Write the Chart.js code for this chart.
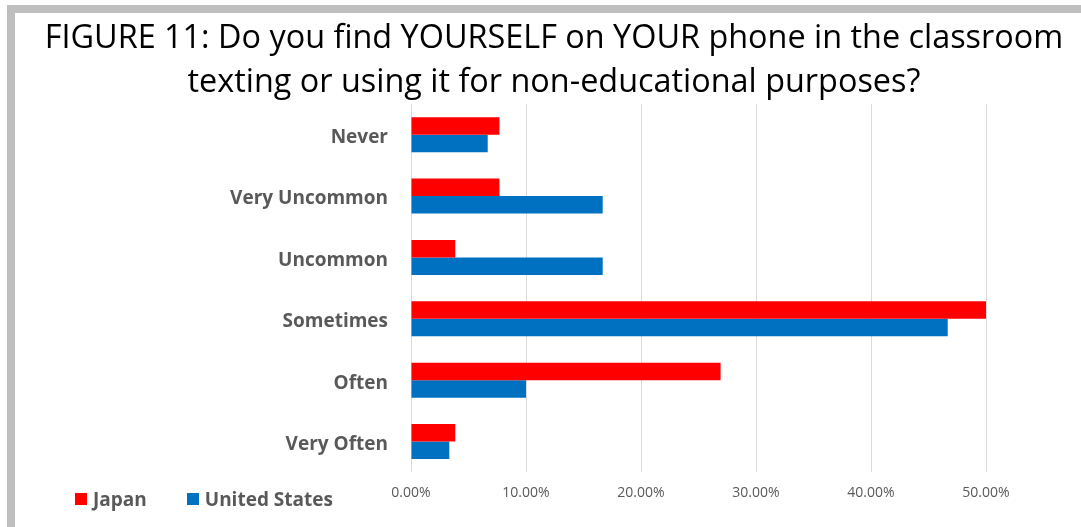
<!DOCTYPE html>
<html>
  <head>
    <title>Phone use in the classroom</title>
    <script src="https://cdn.jsdelivr.net/npm/chart.js"></script>
    <style>
      body {
        margin: 0;
        background: #ffffff;
        overflow: hidden;
      }
      .frame {
        position: absolute;
        left: 7px;
        top: 5px;
        width: 1066px;
        height: 514px;
        border-left: 8px solid #bfbfbf;
        border-top: 8px solid #bfbfbf;
        background: #ffffff;
      }
      canvas {
        display: block;
      }
      .legend {
        position: absolute;
        left: 75px;
        top: 486px;
        display: flex;
        font-family: "Open Sans", sans-serif;
        font-weight: bold;
        font-size: 19px;
        color: #595959;
      }
      .legend span.item {
        display: flex;
        align-items: center;
        margin-right: 40px;
      }
      .legend span.box {
        display: inline-block;
        width: 12px;
        height: 12px;
        margin-right: 6px;
      }
    </style>
  </head>
  <body>
    <div class="frame">
      <canvas id="myChart" width="1066" height="514"></canvas>
    </div>
    <div class="legend" id="legend"></div>

    <script>
      const categorias = ["Never", "Very Uncommon", "Uncommon", "Sometimes", "Often", "Very Often"];
      const japon = [7.69, 7.69, 3.85, 50.0, 26.92, 3.85];
      const estadosUnidos = [6.67, 16.67, 16.67, 46.67, 10.0, 3.33];
      const titulo = [
        "FIGURE 11: Do you find YOURSELF on YOUR phone in the classroom",
        "texting or using it for non-educational purposes?",
      ];

      const chartData = {
        labels: categorias,
        datasets: [
          {
            label: "Japan",
            data: japon,
            backgroundColor: "#ff0000",
            categoryPercentage: 0.57,
            barPercentage: 1.0,
          },
          {
            label: "United States",
            data: estadosUnidos,
            backgroundColor: "#0070c0",
            categoryPercentage: 0.57,
            barPercentage: 1.0,
          },
        ],
      };

      const chartOptions = {
        indexAxis: "y",
        responsive: false,
        animation: false,
        layout: {
          padding: { left: 12, right: 0, top: 0, bottom: 14 },
        },
        plugins: {
          legend: { display: false },
          tooltip: { enabled: false },
          title: {
            display: true,
            text: titulo,
            color: "#000000",
            font: { family: "'Open Sans', sans-serif", size: 32.4, weight: "normal", lineHeight: 1.343 },
            padding: { top: 4, bottom: 0 },
          },
        },
        scales: {
          x: {
            min: 0,
            max: 50,
            ticks: {
              stepSize: 10,
              color: "#595959",
              padding: 12,
              font: { family: "'Open Sans', sans-serif", size: 14 },
              callback: (v) => v.toFixed(2) + "%",
            },
            grid: {
              color: "#d9d9d9",
              drawTicks: false,
            },
            border: { display: false },
          },
          y: {
            ticks: {
              color: "#595959",
              padding: 23,
              labelOffset: 3,
              font: { family: "'Open Sans', sans-serif", size: 19, weight: "bold" },
            },
            grid: { display: false, drawTicks: false },
            border: { display: false },
            afterFit: (scale) => {
              scale.width = 384;
            },
          },
          // eje vacío a la derecha: deja el margen sin descentrar el título
          margen: {
            type: "linear",
            position: "right",
            ticks: { display: false },
            grid: { display: false, drawTicks: false },
            border: { display: false },
            afterFit: (scale) => {
              scale.width = 95;
            },
          },
        },
      };

      const myChart = new Chart(document.getElementById("myChart"), {
        type: "bar",
        data: chartData,
        options: chartOptions,
      });

      // leyenda abajo a la izquierda, en la misma fila que las etiquetas del eje
      const leyenda = document.getElementById("legend");
      chartData.datasets.forEach((ds) => {
        const item = document.createElement("span");
        item.className = "item";
        const box = document.createElement("span");
        box.className = "box";
        box.style.background = ds.backgroundColor;
        item.appendChild(box);
        item.appendChild(document.createTextNode(ds.label));
        leyenda.appendChild(item);
      });
    </script>
  </body>
</html>
